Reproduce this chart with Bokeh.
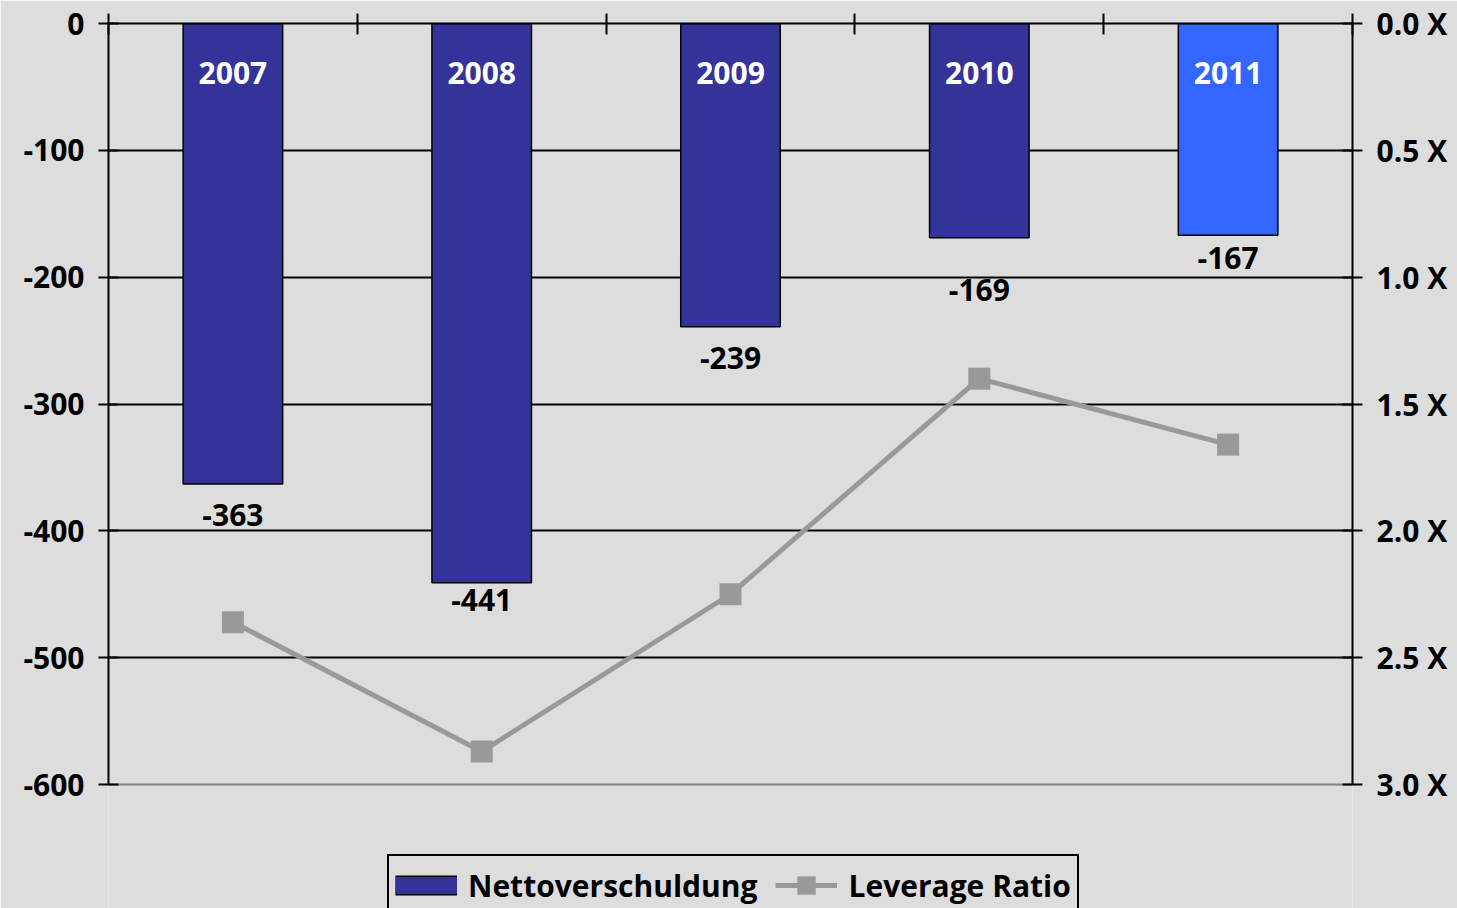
from bokeh.plotting import figure
from bokeh.models import (Range1d, LinearAxis, FixedTicker, ColumnDataSource, Legend,
                          LegendItem, Grid, PrintfTickFormatter, CustomJSTickFormatter)
from bokeh.core.properties import value
from bokeh.embed import file_html
from bokeh.resources import INLINE

# ---- data ----
years = ["2007", "2008", "2009", "2010", "2011"]
nettoverschuldung = [-363, -441, -239, -169, -167]
leverage_ratio = [2.36, 2.87, 2.25, 1.40, 1.66]
left_ticks = [0, -100, -200, -300, -400, -500, -600]
right_ticks = [0.0, 0.5, 1.0, 1.5, 2.0, 2.5, 3.0]

# ---- styles / layout ----
BG = "#DDDDDD"
BAR_COLOR = "#333399"
bar_colors = [BAR_COLOR, BAR_COLOR, BAR_COLOR, BAR_COLOR, "#3366FF"]
LINE_COLOR = "#999999"
label_offsets = [31, 17, 31, 52, 23]   # px below bar end (label centre)
FONT = "Open Sans"
FS = "30px"
W, H = 1457, 908
TOP, AXIS_BOTTOM = 23, 784            # pixel rows of 0 and of -600 / 3.0 X
stretch = (H - TOP) / (AXIS_BOTTOM - TOP)   # frame runs to the window bottom (legend sits inside)

src = ColumnDataSource(dict(
    x=[i + 0.5 for i in range(len(years))],
    year=years,
    val=nettoverschuldung,
    val_label=[str(v) for v in nettoverschuldung],
    lev=leverage_ratio,
    color=bar_colors,
    off=label_offsets,
))

y_min, y_max = min(left_ticks), max(left_ticks)
r_min, r_max = min(right_ticks), max(right_ticks)

p = figure(width=W, height=H, output_backend="svg", toolbar_location=None,
           x_range=Range1d(0, len(years)),
           y_range=Range1d(y_max - (y_max - y_min) * stretch, y_max),
           x_axis_location=None, y_axis_location=None,
           min_border_left=108, min_border_right=105, min_border_top=TOP, min_border_bottom=0,
           background_fill_color=BG, border_fill_color=BG,
           outline_line_color=None)
p.extra_y_ranges = {"lev": Range1d(r_min + (r_max - r_min) * stretch, r_min)}
for g in p.grid:
    g.visible = False

# grid
p.add_layout(Grid(dimension=1, ticker=FixedTicker(ticks=left_ticks[:-1]),
                  grid_line_color="black", grid_line_width=2))
p.add_layout(Grid(dimension=1, ticker=FixedTicker(ticks=left_ticks[-1:]),
                  grid_line_color="#808080", grid_line_width=2))

def style_axis(ax):
    ax.axis_line_width = 2
    ax.axis_line_color = "black"
    ax.major_tick_line_width = 2
    ax.major_tick_line_color = "black"
    ax.minor_tick_line_color = None
    ax.major_label_text_font = FONT
    ax.major_label_text_font_style = "bold"
    ax.major_label_text_font_size = FS
    ax.major_label_text_color = "black"

left = LinearAxis(ticker=FixedTicker(ticks=left_ticks), formatter=PrintfTickFormatter(format="%d"),
                  bounds=(y_min, y_max),
                  major_tick_in=10, major_tick_out=10, major_label_standoff=14)
style_axis(left)
p.add_layout(left, "left")

right = LinearAxis(y_range_name="lev", ticker=FixedTicker(ticks=right_ticks),
                   formatter=PrintfTickFormatter(format="%.1f X"), bounds=(r_min, r_max),
                   major_tick_in=10, major_tick_out=10, major_label_standoff=14)
style_axis(right)
p.add_layout(right, "right")

top = LinearAxis(ticker=FixedTicker(ticks=list(range(len(years) + 1))),
                 formatter=CustomJSTickFormatter(code="return ''"),
                 major_tick_in=11, major_tick_out=10, major_label_standoff=0)
style_axis(top)
p.add_layout(top, "above")

# bars
bars = p.vbar(x="x", top="val", bottom=0, width=0.4, fill_color="color",
              line_color="black", line_width=1.5, source=src)

p.text(x="x", y=0, text="year", text_color="white", text_font=value(FONT),
       text_font_style="bold", text_font_size=FS, text_align="center",
       text_baseline="middle", y_offset=49, source=src)
p.text(x="x", y="val", text="val_label", text_color="black", text_font=value(FONT),
       text_font_style="bold", text_font_size=FS, text_align="center",
       text_baseline="middle", y_offset="off", source=src)

# leverage line
ln = p.line(x="x", y="lev", y_range_name="lev", line_color=LINE_COLOR, line_width=5, source=src)
sq = p.scatter(x="x", y="lev", y_range_name="lev", marker="square", size=22,
               fill_color=LINE_COLOR, line_color=None, source=src)

# legend swatch for the bars (outlined bar drawn as two stacked strokes; nothing on the plot)
nan = float("nan")
sw_src = ColumnDataSource(dict(x=[nan], y=[nan]))
sw_edge = p.line(x="x", y="y", line_color="black", line_width=20, source=sw_src)
sw_fill = p.line(x="x", y="y", line_color=BAR_COLOR, line_width=17, source=sw_src)

legend = Legend(items=[LegendItem(label="Nettoverschuldung", renderers=[sw_edge, sw_fill]),
                       LegendItem(label="Leverage Ratio", renderers=[ln, sq])],
                orientation="horizontal", location=(279, -8),
                border_line_color="black", border_line_width=2, border_line_alpha=1,
                background_fill_color=BG, background_fill_alpha=1,
                label_text_font=FONT, label_text_font_style="bold", label_text_font_size=FS,
                label_text_color="black",
                glyph_width=62, glyph_height=46, padding=6, spacing=18, label_standoff=11,
                margin=0)
p.add_layout(legend)

open("out.html", "w").write(file_html(p, INLINE))
